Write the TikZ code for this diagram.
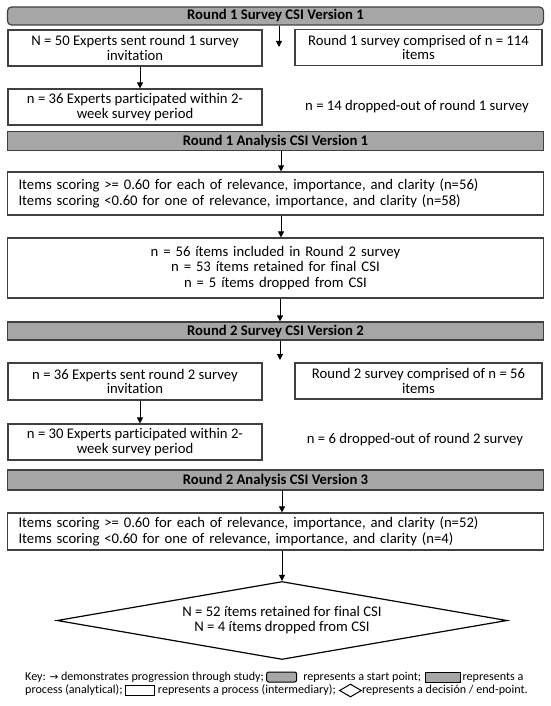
\documentclass[tikz,border=0pt]{standalone}
\usepackage{fontspec}
\setmainfont{Carlito}[Ligatures=NoCommon]
\newfontfamily\symfont{DejaVu Sans}
\usetikzlibrary{arrows.meta,positioning,shapes.geometric}
\definecolor{bargray}{HTML}{A6A6A6}
\definecolor{edgegray}{HTML}{404040}
\begin{document}
\begin{tikzpicture}[x=1pt,y=-1pt]
    \tikzstyle{every node}+=[inner sep=0pt]
    \tikzstyle{bar}=[draw=edgegray, line width=1.2pt, fill=bargray, minimum width=536pt, minimum height=18pt, font=\fontsize{14.7}{15}\selectfont\bfseries]
    \tikzstyle{halfbox}=[draw=edgegray, line width=1.2pt, fill=white, minimum width=254pt, minimum height=36pt, align=center, font=\fontsize{14.7}{14.8}\selectfont]
    \tikzstyle{sidebox}=[halfbox, minimum width=247pt]
    \tikzstyle{wide}=[draw=edgegray, line width=1.2pt, fill=white, text width=514pt, inner xsep=11pt, align=left, font=\fontsize{14.7}{15.5}\selectfont]
    \tikzstyle{note}=[font=\fontsize{14.7}{15}\selectfont]
    \tikzstyle{flow}=[line width=1pt, -{Triangle[length=6pt,width=6pt]}]
    \tikzstyle{keytext}=[font=\fontsize{12.1}{13}\selectfont, text height=8.5pt, text depth=2.5pt]
    \tikzstyle{keybox}=[draw=black, line width=1pt, minimum width=30pt, minimum height=10pt]
    \useasboundingbox (0,0) rectangle (550,706);
    \node [bar, rounded corners=4pt] (r1s) at (275.5,16) {Round 1 Survey CSI Version 1};
    \node [halfbox] (invite1) at (135,48) {N = 50 Experts sent round 1 survey\\invitation};
    \node [sidebox] (pool1) at (418.5,47.5) {Round 1 survey comprised of n = 114\\items};
    \node [halfbox] (part1) at (135,107) {n = 36 Experts participated within 2-\\week survey period};
    \node [note] (drop1) at (417,107) {n = 14 dropped-out of round 1 survey};
    \node [bar, minimum height=19pt] (r1a) at (275.5,141) {Round 1 Analysis CSI Version 1};
    \node [wide, minimum height=43pt] (items1) at (275.5,193.5) {Items scoring >= 0.60 for each of relevance, importance, and clarity (n=56)\\Items scoring <0.60 for one of relevance, importance, and clarity (n=58)};
    \node [wide, align=center, minimum height=60pt] (keep1) at (275.5,268) {n = 56 ítems included in Round 2 survey\\n = 53 ítems retained for final CSI\\n = 5 ítems dropped from CSI};
    \node [bar] (r2s) at (275.5,331) {Round 2 Survey CSI Version 2};
    \node [halfbox, minimum height=37pt] (invite2) at (135,381.5) {n = 36 Experts sent round 2 survey\\invitation};
    \node [sidebox] (pool2) at (418.5,381) {Round 2 survey comprised of n = 56\\items};
    \node [halfbox] (part2) at (135,442) {n = 30 Experts participated within 2-\\week survey period};
    \node [note] (drop2) at (415,440) {n = 6 dropped-out of round 2 survey};
    \node [bar, minimum height=20pt] (r2a) at (275.5,480) {Round 2 Analysis CSI Version 3};
    \node [wide, minimum height=37pt] (items2) at (275.5,531.5) {Items scoring >= 0.60 for each of relevance, importance, and clarity (n=52)\\Items scoring <0.60 for one of relevance, importance, and clarity (n=4)};
    \node [diamond, draw=black, line width=1.2pt, aspect=5.77, minimum width=450pt, minimum height=78pt, align=center, font=\fontsize{14.7}{15}\selectfont] (final) at (282,620.5) {N = 52 ítems retained for final CSI\\N = 4 ítems dropped from CSI};
    \coordinate (gap1) at (279,47);
    \coordinate (gap2) at (280,360);
    \draw [flow] (r1s.south -| gap1) -- (gap1);
    \draw [flow] ([xshift=5pt]invite1.south) -- ([xshift=5pt]part1.north);
    \draw [flow] ([xshift=5.5pt]r1a.south) -- ([xshift=5.5pt]items1.north);
    \draw [flow] ([xshift=5.5pt]items1.south) -- ([xshift=5.5pt]keep1.north);
    \draw [flow] ([xshift=4.5pt]keep1.south) -- ([xshift=4.5pt]r2s.north);
    \draw [flow] (r2s.south -| gap2) -- (gap2);
    \draw [flow] ([xshift=5pt]invite2.south) -- ([xshift=5pt]part2.north);
    \draw [flow] ([xshift=6.5pt]r2a.south) -- ([xshift=6.5pt]items2.north);
    \draw [flow] (items2.south -| final.north) -- (final.north);
    \node [keytext, anchor=west] (k1) at (25,677) {Key: {\symfont\fontsize{10.5}{12}\selectfont →} demonstrates progression through study;};
    \node [keybox, fill=bargray, rounded corners=2pt, right=2pt of k1] (k2) {};
    \node [keytext, right=6pt of k2] (k3) {represents a start point;};
    \node [keybox, fill=bargray, minimum width=35pt, right=4pt of k3] (k4) {};
    \node [keytext, right=1pt of k4] (k5) {represents a};
    \node [keytext, anchor=west] (k6) at (25,690.5) {process (analytical);};
    \node [keybox, fill=white, minimum width=29pt, right=2pt of k6] (k7) {};
    \node [keytext, right=3pt of k7] (k8) {represents a process (intermediary);};
    \node [diamond, draw=black, line width=1pt, aspect=1.7, minimum width=22pt, minimum height=13pt, right=3pt of k8] (k9) {};
    \node [keytext, right=0pt of k9] (k10) {represents a decisión / end-point.};
\end{tikzpicture}
\end{document}
